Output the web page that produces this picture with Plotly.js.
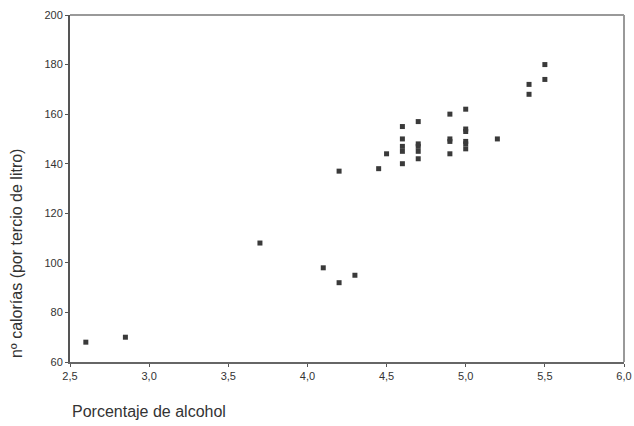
<!DOCTYPE html>
<html>
<head>
<meta charset="utf-8">
<script src="https://cdn.plot.ly/plotly-3.0.1.min.js"></script>
<style>html,body{margin:0;padding:0;background:#fff;}#chart{width:634px;height:426px;}</style>
</head>
<body>
<div id="chart"></div>
<script>
// Porcentaje de alcohol (x) and nº calorías (y)
const alcohol = [2.6, 2.85, 3.7, 4.1, 4.2, 4.3, 4.2, 4.45, 4.5,
  4.6, 4.6, 4.6, 4.6, 4.6,
  4.7, 4.7, 4.7, 4.7, 4.7,
  4.9, 4.9, 4.9, 4.9,
  5.0, 5.0, 5.0, 5.0, 5.0, 5.0,
  5.2, 5.4, 5.4, 5.5, 5.5];
const calorias = [68, 70, 108, 98, 92, 95, 137, 138, 144,
  155, 150, 147, 145, 140,
  157, 148, 147, 145, 142,
  160, 150, 149, 144,
  162, 154, 153, 149, 148, 146,
  150, 172, 168, 180, 174];
const xTicks = [2.5, 3.0, 3.5, 4.0, 4.5, 5.0, 5.5, 6.0];
const yTicks = [60, 80, 100, 120, 140, 160, 180, 200];
const xTitle = 'Porcentaje de alcohol';
const yTitle = 'nº calorías (por tercio de litro)';

const tickFont = {family: 'Liberation Sans, Arial, sans-serif', size: 11, color: '#333'};
const titleFont = {family: 'Liberation Sans, Arial, sans-serif', size: 16, color: '#333'};

Plotly.newPlot('chart', [{
  x: alcohol, y: calorias, type: 'scatter', mode: 'markers',
  marker: {symbol: 'square', size: 5, color: '#3a3a3a'},
  hoverinfo: 'x+y'
}], {
  width: 634, height: 426,
  margin: {l: 70, r: 10, t: 15, b: 64},
  paper_bgcolor: '#fff', plot_bgcolor: '#fff',
  separators: ',.',
  showlegend: false,
  xaxis: {
    range: [2.5, 6.0], tickvals: xTicks, tickformat: '.1f',
    showgrid: false, zeroline: false,
    showline: true, linecolor: '#666', linewidth: 2,
    ticks: 'outside', ticklen: 3, tickwidth: 1, tickcolor: '#555',
    tickfont: tickFont
  },
  yaxis: {
    range: [60, 200], tickvals: yTicks,
    showgrid: false, zeroline: false,
    showline: true, linecolor: '#555', linewidth: 2,
    ticks: 'outside', ticklen: 3, tickwidth: 1, tickcolor: '#555',
    tickfont: tickFont
  },
  shapes: [
    {type: 'line', xref: 'paper', yref: 'paper', x0: 0, x1: 1, y0: 1, y1: 1, line: {color: '#999', width: 2}},
    {type: 'line', xref: 'paper', yref: 'paper', x0: 1, x1: 1, y0: 0, y1: 1, line: {color: '#999', width: 2}}
  ],
  annotations: [
    {text: xTitle, xref: 'paper', yref: 'paper', x: 0, y: -0.142, xanchor: 'left', yanchor: 'middle',
     showarrow: false, font: titleFont},
    {text: yTitle, xref: 'paper', yref: 'paper', x: -0.0975, y: 0.314, xanchor: 'center', yanchor: 'middle',
     textangle: -90, showarrow: false, font: titleFont}
  ]
}, {staticPlot: true});
</script>
</body>
</html>
